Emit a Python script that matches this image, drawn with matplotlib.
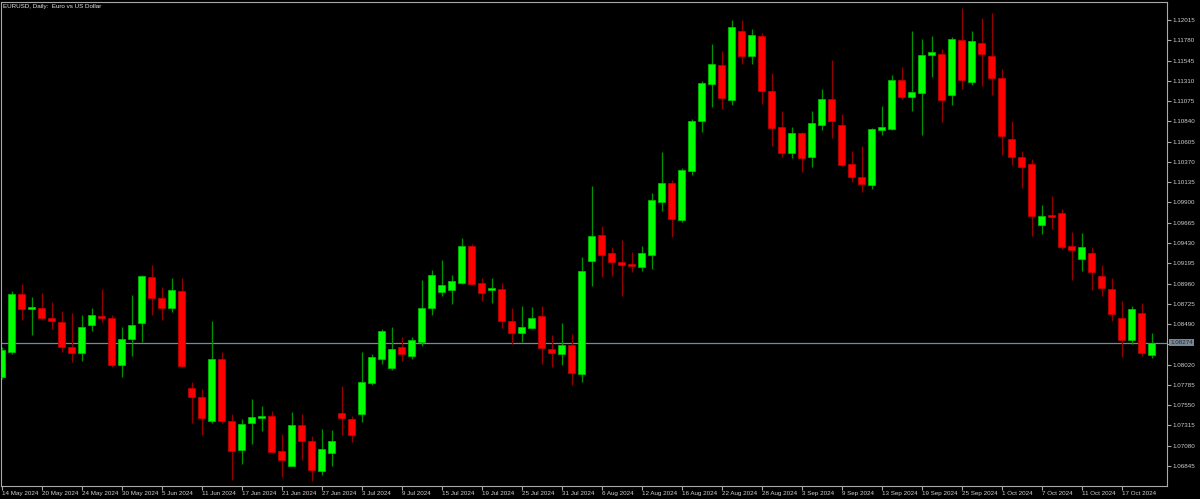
import matplotlib
matplotlib.use('Agg')
import matplotlib.pyplot as plt
import numpy as np

# EURUSD daily, 14 May 2024 .. 22 Oct 2024 (one bar per trading day)
opens = [1.0788, 1.0817, 1.0884, 1.0867, 1.0868, 1.0856, 1.0852, 1.0822, 1.0815, 1.0848,
         1.0858, 1.0856, 1.0801, 1.0832, 1.0850, 1.0904, 1.0879, 1.0868, 1.0887, 1.0775,
         1.0765, 1.0737, 1.0809, 1.0737, 1.0703, 1.0734, 1.0740, 1.0743, 1.0702, 1.0685,
         1.0732, 1.0713, 1.0679, 1.0700, 1.0746, 1.0739, 1.0745, 1.0781, 1.0809, 1.0798,
         1.0823, 1.0812, 1.0828, 1.0868, 1.0886, 1.0889, 1.0897, 1.0939, 1.0897, 1.0888,
         1.0890, 1.0853, 1.0839, 1.0845, 1.0858, 1.0820, 1.0814, 1.0825, 1.0791, 1.0922,
         1.0952, 1.0931, 1.0921, 1.0919, 1.0915, 1.0929, 1.0991, 1.1012, 1.0970, 1.1027,
         1.1084, 1.1127, 1.1149, 1.1109, 1.1189, 1.1160, 1.1183, 1.1119, 1.1077, 1.1047,
         1.1070, 1.1043, 1.1080, 1.1110, 1.1080, 1.1034, 1.1020, 1.1010, 1.1074, 1.1075,
         1.1132, 1.1112, 1.1117, 1.1161, 1.1162, 1.1115, 1.1178, 1.1130, 1.1175, 1.1160,
         1.1134, 1.1064, 1.1043, 1.1034, 1.0964, 1.0975, 1.0978, 1.0939, 1.0925, 1.0931,
         1.0905, 1.0890, 1.0856, 1.0831, 1.0862, 1.0813]
highs = [1.0822, 1.0887, 1.0896, 1.0880, 1.0885, 1.0875, 1.0864, 1.0862, 1.0859, 1.0868,
         1.0890, 1.0860, 1.0846, 1.0883, 1.0906, 1.0917, 1.0892, 1.0903, 1.0903, 1.0782,
         1.0774, 1.0853, 1.0817, 1.0745, 1.0739, 1.0762, 1.0754, 1.0748, 1.0722, 1.0747,
         1.0745, 1.0719, 1.0727, 1.0726, 1.0777, 1.0743, 1.0817, 1.0814, 1.0843, 1.0846,
         1.0834, 1.0834, 1.0900, 1.0912, 1.0923, 1.0906, 1.0949, 1.0942, 1.0902, 1.0903,
         1.0897, 1.0868, 1.0870, 1.0869, 1.0870, 1.0836, 1.0850, 1.0837, 1.0927, 1.1009,
         1.0963, 1.0938, 1.0946, 1.0932, 1.0940, 1.1001, 1.1048, 1.1016, 1.1030, 1.1087,
         1.1131, 1.1174, 1.1166, 1.1202, 1.1202, 1.1191, 1.1186, 1.1140, 1.1096, 1.1078,
         1.1072, 1.1096, 1.1121, 1.1155, 1.1092, 1.1050, 1.1056, 1.1076, 1.1102, 1.1138,
         1.1147, 1.1189, 1.1179, 1.1183, 1.1168, 1.1182, 1.1215, 1.1189, 1.1204, 1.1210,
         1.1145, 1.1084, 1.1050, 1.1040, 1.0987, 1.0997, 1.0982, 1.0956, 1.0955, 1.0938,
         1.0917, 1.0903, 1.0876, 1.0870, 1.0873, 1.0839]
lows = [1.0785, 1.0814, 1.0854, 1.0836, 1.0854, 1.0843, 1.0817, 1.0805, 1.0806, 1.0841,
        1.0851, 1.0799, 1.0788, 1.0812, 1.0828, 1.0860, 1.0854, 1.0863, 1.0799, 1.0734,
        1.0720, 1.0734, 1.0734, 1.0668, 1.0687, 1.0710, 1.0725, 1.0701, 1.0672, 1.0684,
        1.0691, 1.0667, 1.0674, 1.0685, 1.0720, 1.0712, 1.0736, 1.0778, 1.0803, 1.0796,
        1.0806, 1.0809, 1.0824, 1.0860, 1.0882, 1.0872, 1.0895, 1.0894, 1.0876, 1.0873,
        1.0844, 1.0826, 1.0828, 1.0843, 1.0803, 1.0799, 1.0802, 1.0778, 1.0782, 1.0893,
        1.0904, 1.0905, 1.0882, 1.0909, 1.0910, 1.0913, 1.0980, 1.0950, 1.0967, 1.1022,
        1.1072, 1.1101, 1.1098, 1.1103, 1.1150, 1.1150, 1.1104, 1.1056, 1.1043, 1.1042,
        1.1025, 1.1031, 1.1074, 1.1065, 1.1032, 1.1014, 1.1002, 1.1006, 1.1068, 1.1074,
        1.1110, 1.1096, 1.1068, 1.1136, 1.1083, 1.1103, 1.1121, 1.1126, 1.1125, 1.1114,
        1.1045, 1.1033, 1.1007, 1.0951, 1.0954, 1.0959, 1.0936, 1.0900, 1.0910, 1.0888,
        1.0882, 1.0853, 1.0811, 1.0826, 1.0812, 1.0810]
closes = [1.0819, 1.0884, 1.0867, 1.0869, 1.0856, 1.0853, 1.0823, 1.0815, 1.0846, 1.0859,
          1.0856, 1.0801, 1.0832, 1.0848, 1.0905, 1.0879, 1.0868, 1.0888, 1.0800, 1.0764,
          1.0740, 1.0809, 1.0737, 1.0702, 1.0733, 1.0741, 1.0743, 1.0701, 1.0692, 1.0732,
          1.0714, 1.0680, 1.0704, 1.0713, 1.0740, 1.0720, 1.0782, 1.0811, 1.0841, 1.0820,
          1.0814, 1.0831, 1.0868, 1.0906, 1.0894, 1.0899, 1.0940, 1.0896, 1.0885, 1.0891,
          1.0853, 1.0839, 1.0846, 1.0856, 1.0821, 1.0815, 1.0825, 1.0792, 1.0911, 1.0951,
          1.0929, 1.0921, 1.0918, 1.0916, 1.0931, 1.0993, 1.1013, 1.0971, 1.1028, 1.1085,
          1.1129, 1.1150, 1.1111, 1.1193, 1.1160, 1.1184, 1.1119, 1.1076, 1.1047, 1.1071,
          1.1042, 1.1082, 1.1110, 1.1085, 1.1033, 1.1019, 1.1011, 1.1075, 1.1077, 1.1132,
          1.1112, 1.1118, 1.1161, 1.1164, 1.1109, 1.1179, 1.1132, 1.1177, 1.1162, 1.1134,
          1.1067, 1.1043, 1.1031, 1.0974, 1.0974, 1.0973, 1.0938, 1.0935, 1.0938, 1.0909,
          1.0891, 1.0861, 1.0830, 1.0867, 1.0815, 1.08274]

date_labels = ['14 May 2024', '20 May 2024', '24 May 2024', '30 May 2024', '5 Jun 2024',
               '11 Jun 2024', '17 Jun 2024', '21 Jun 2024', '27 Jun 2024', '3 Jul 2024',
               '9 Jul 2024', '15 Jul 2024', '19 Jul 2024', '25 Jul 2024', '31 Jul 2024',
               '6 Aug 2024', '12 Aug 2024', '16 Aug 2024', '22 Aug 2024', '28 Aug 2024',
               '3 Sep 2024', '9 Sep 2024', '13 Sep 2024', '19 Sep 2024', '25 Sep 2024',
               '1 Oct 2024', '7 Oct 2024', '11 Oct 2024', '17 Oct 2024']
price_labels = ['1.12015', '1.11780', '1.11545', '1.11310', '1.11075', '1.10840', '1.10605',
                '1.10370', '1.10135', '1.09900', '1.09665', '1.09430', '1.09195', '1.08960',
                '1.08725', '1.08490', '1.08255', '1.08020', '1.07785', '1.07550', '1.07315',
                '1.07080', '1.06845']
bid = 1.08274

o = np.array(opens)
h = np.array(highs)
l = np.array(lows)
c = np.array(closes)
x = np.arange(len(o))
up = c >= o

W, H = 1200, 499
fig = plt.figure(figsize=(W / 100, H / 100), dpi=100, facecolor='black')
ax = fig.add_axes([1 / W, 13.5 / H, 1165.5 / W, 484 / H], facecolor='black')

txt = '#cfcfcf'
grey = '#a8a8a8'

# wicks
ax.vlines(x[up], l[up], h[up], colors='#009400', linewidth=0.9, zorder=2)
ax.vlines(x[~up], l[~up], h[~up], colors='#940000', linewidth=0.9, zorder=2)

# bodies, dojis get a thin minimum height
bot = np.minimum(o, c)
hgt = np.maximum(np.abs(c - o), 0.0002)
ax.bar(x[up], hgt[up], bottom=bot[up], width=0.68, color='#00ff00',
       edgecolor='#00c800', linewidth=0.5, zorder=3)
ax.bar(x[~up], hgt[~up], bottom=bot[~up], width=0.68, color='#ff0000',
       edgecolor='#c80000', linewidth=0.5, zorder=3)

# bid line
ax.axhline(bid, color='#778899', linewidth=0.9, zorder=1)

ax.set_xlim(-0.07, 116.48)
ax.set_ylim(1.066189, 1.122295)

ax.yaxis.tick_right()
ax.set_yticks([float(p) for p in price_labels])
ax.set_yticklabels([p if p != '1.08255' else '' for p in price_labels])
ax.set_xticks(np.arange(0, 4 * len(date_labels), 4))
ax.set_xticklabels(date_labels)
for t in ax.get_xticklabels():
    t.set_ha('left')

ax.tick_params(axis='both', direction='out', length=3, width=0.8, color=grey,
               labelcolor=txt, labelsize=4.5, pad=1.2)
for lbl in ax.get_xticklabels() + ax.get_yticklabels():
    lbl.set_family('Liberation Sans')
for s in ax.spines.values():
    s.set_color(grey)
    s.set_linewidth(0.8)

# bid price tag on the right scale
ax.annotate('1.08274', xy=(1.0, bid), xycoords=('axes fraction', 'data'),
            xytext=(2.5, 0), textcoords='offset points', va='center', ha='left',
            fontsize=4.5, family='Liberation Sans', color='#2a2a2a',
            bbox=dict(boxstyle='square,pad=0.15', fc='#778899', ec='none'))

fig.text(3 / W, 1 - 6.5 / H, 'EURUSD, Daily:  Euro vs US Dollar', ha='left', va='center',
         color='#e6e6e6', fontsize=4.5, family='Liberation Sans')

fig.savefig('out.png', dpi=100, facecolor='black')
